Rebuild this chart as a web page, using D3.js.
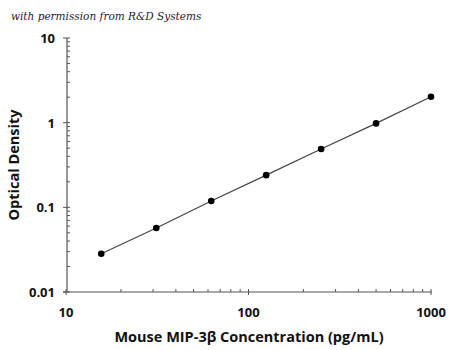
<!DOCTYPE html>
<html lang="en">
<head>
<meta charset="UTF-8">
<title>MIP-3beta standard curve</title>
<script src="https://cdn.jsdelivr.net/npm/d3@7"></script>
<style>
  body { margin: 0; background: #fff; }
  text { font-family: "Open Sans", "Liberation Sans", sans-serif; }
</style>
</head>
<body>
<script>
// standard curve data
var conc = [15.6, 31.25, 62.5, 125, 250, 500, 1000];
var od = [0.0283, 0.057, 0.119, 0.24, 0.488, 0.98, 2.02];
var xTicks = [10, 100, 1000];
var yTicks = [0.01, 0.1, 1, 10];
var yTickLabels = ['0.01', '0.1', '1', '10'];

var svg = d3.select('body').append('svg')
    .attr('width', 450)
    .attr('height', 350);

var x = d3.scaleLog().domain([10, 1000]).range([66, 431]);
var y = d3.scaleLog().domain([0.01, 10]).range([292, 38]);

// minor ticks (inside) for each decade
var xMinor = [], yMinor = [];
[10, 100].forEach(function (d) {
    for (var k = 2; k <= 9; k++) xMinor.push(d * k);
});
[0.01, 0.1, 1].forEach(function (d) {
    for (var k = 2; k <= 9; k++) yMinor.push(d * k);
});

var axisColor = '#555';

svg.selectAll('.xminor').data(xMinor).enter().append('line')
    .attr('x1', function (d) { return x(d); })
    .attr('x2', function (d) { return x(d); })
    .attr('y1', 292).attr('y2', 289)
    .attr('stroke', axisColor).attr('stroke-width', 1);

svg.selectAll('.yminor').data(yMinor).enter().append('line')
    .attr('x1', 67).attr('x2', 70)
    .attr('y1', function (d) { return y(d); })
    .attr('y2', function (d) { return y(d); })
    .attr('stroke', axisColor).attr('stroke-width', 1);

// major ticks
svg.selectAll('.xmajor').data(xTicks).enter().append('line')
    .attr('x1', function (d) { return x(d); })
    .attr('x2', function (d) { return x(d); })
    .attr('y1', 289).attr('y2', 295)
    .attr('stroke', axisColor);

svg.selectAll('.ymajor').data(yTicks).enter().append('line')
    .attr('x1', 63).attr('x2', 70)
    .attr('y1', function (d) { return y(d); })
    .attr('y2', function (d) { return y(d); })
    .attr('stroke', axisColor);

// axis lines
svg.append('line')
    .attr('x1', 67).attr('x2', 67).attr('y1', 38).attr('y2', 292)
    .attr('stroke', axisColor).attr('stroke-width', 1.2);
svg.append('line')
    .attr('x1', 63).attr('x2', 432).attr('y1', 292).attr('y2', 292)
    .attr('stroke', axisColor).attr('stroke-width', 1.2);

// tick labels
svg.selectAll('.xlab').data(xTicks).enter().append('text')
    .attr('x', function (d) { return x(d); })
    .attr('y', 317)
    .attr('text-anchor', 'middle')
    .attr('font-size', 13).attr('font-weight', 'bold')
    .attr('fill', '#111')
    .text(function (d) { return d; });

svg.selectAll('.ylab').data(yTicks).enter().append('text')
    .attr('x', 55)
    .attr('y', function (d) { return y(d) + 5; })
    .attr('text-anchor', 'end')
    .attr('font-size', 13).attr('font-weight', 'bold')
    .attr('fill', '#111')
    .text(function (d, i) { return yTickLabels[i]; });

// axis titles
svg.append('text')
    .attr('x', 249).attr('y', 342)
    .attr('text-anchor', 'middle')
    .attr('font-size', 14.5).attr('font-weight', 'bold')
    .attr('fill', '#111')
    .text('Mouse MIP-3β Concentration (pg/mL)');

svg.append('text')
    .attr('transform', 'translate(19,165) rotate(-90)')
    .attr('text-anchor', 'middle')
    .attr('font-size', 14.5).attr('font-weight', 'bold')
    .attr('fill', '#111')
    .text('Optical Density');

// credit line
svg.append('text')
    .attr('x', 11).attr('y', 20)
    .style('font-family', '"DejaVu Serif", "Liberation Serif", serif')
    .style('font-style', 'italic')
    .attr('font-size', 10.5)
    .attr('fill', '#1c1c3a')
    .text('with permission from R&D Systems');

// curve and points
var pts = conc.map(function (c, i) { return [c, od[i]]; });
var line = d3.line()
    .x(function (d) { return x(d[0]); })
    .y(function (d) { return y(d[1]); });

svg.append('path')
    .datum(pts)
    .attr('d', line)
    .attr('fill', 'none')
    .attr('stroke', '#444')
    .attr('stroke-width', 1.2);

svg.selectAll('.pt').data(pts).enter().append('circle')
    .attr('cx', function (d) { return x(d[0]); })
    .attr('cy', function (d) { return y(d[1]); })
    .attr('r', 3.3)
    .attr('fill', '#000');
</script>
</body>
</html>
